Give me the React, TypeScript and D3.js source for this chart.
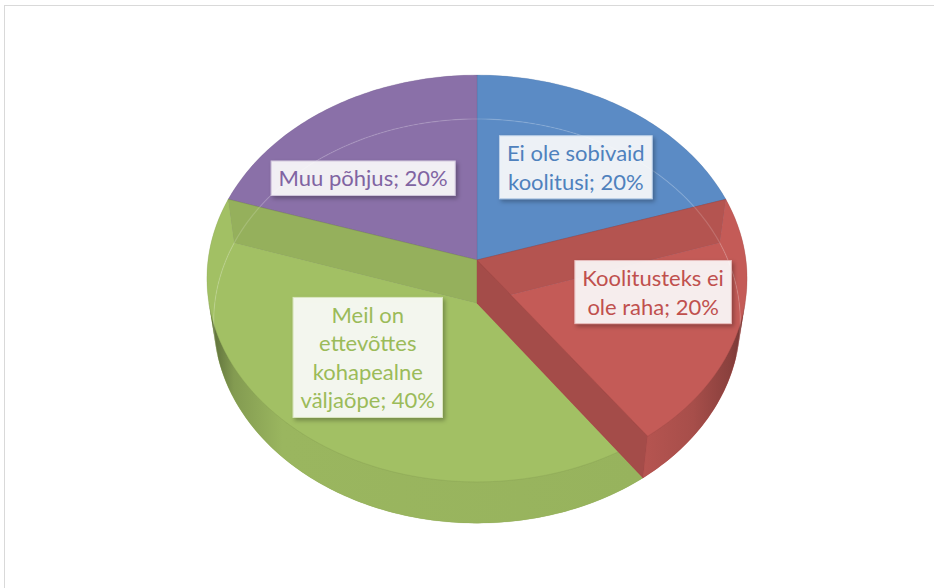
import React from 'react';
import * as d3 from 'd3';

// ---- data ----
const categories = [
  'Ei ole sobivaid koolitusi',
  'Koolitusteks ei ole raha',
  'Meil on ettevõttes kohapealne väljaõpe',
  'Muu põhjus',
];
const values = [20, 20, 40, 20];
const colors = ['#5b8bc5', '#c45b57', '#a2c064', '#8a70a8'];
const textColors = ['#4f81bd', '#c0504d', '#9bbb59', '#8064a2'];

// ---- layout ----
const W = 934;
const HGT = 588;
const cx = 477;
const cy = 260;
const phi = Math.asin(0.75);
const cosP = Math.cos(phi);
const sinP = Math.sin(phi);
const R = 0.1375;
const TH = 0.0342;
const F = 1956;
const drawOrder = [0, 3, 2, 1];
const wrapWidths = [152, 162, 152, 210];
const labelNudge: [number, number][] = [[8, 1], [20, -6], [-10, -5], [-23, 12]];
const FS = 22;
const LH = 28.5;
const FONT = 'Lato, "Open Sans", sans-serif';

function proj(x: number, y: number, z: number): [number, number] {
  const depth = 1 + z * cosP - y * sinP;
  const v = y * cosP + z * sinP;
  return [cx + (F * x) / depth, cy - (F * v) / depth];
}
const rim = (a: number, y: number, r = R) => proj(r * Math.sin(a), y, r * Math.cos(a));
function arcPts(a0: number, a1: number, y: number): [number, number][] {
  const n = Math.max(2, Math.ceil(Math.abs(a1 - a0) / (Math.PI / 180)));
  return d3.range(n + 1).map((i) => rim(a0 + ((a1 - a0) * i) / n, y));
}
const lineGen = d3.line();
const closed = (pts: [number, number][]) => (lineGen(pts) || '') + 'Z';

let measureCtx: CanvasRenderingContext2D | null = null;
function measure(t: string) {
  if (!measureCtx) measureCtx = document.createElement('canvas').getContext('2d');
  if (!measureCtx) return t.length * FS * 0.5;
  measureCtx.font = `${FS}px Lato`;
  return measureCtx.measureText(t).width;
}
function wrap(text: string, maxW: number) {
  const words = text.split(' ');
  const lines: string[] = [];
  let cur = '';
  words.forEach((w) => {
    const t = cur ? cur + ' ' + w : w;
    if (cur && measure(t) > maxW) {
      lines.push(cur);
      cur = w;
    } else cur = t;
  });
  if (cur) lines.push(cur);
  return lines;
}

export default function App() {
  const total = d3.sum(values);
  const arcs = d3.pie<number>().sort(null).startAngle(0).endAngle(2 * Math.PI)(values);
  const thL = Math.acos(-R / cosP);
  const thR = 2 * Math.PI - thL;

  const xs = d3.range(0, 360).map((d) => rim((d * Math.PI) / 180, 0)[0]);
  const xMin = d3.min(xs) as number;
  const xMax = d3.max(xs) as number;

  const c0 = proj(0, 0, 0);
  const cB = proj(0, -TH, 0);

  const slices = arcs.map((a, i) => {
    const a0 = a.startAngle;
    const a1 = a.endAngle;
    const base = d3.color(colors[i]) as d3.RGBColor;
    const wall = base.darker(0.5).formatHex();
    const top = closed([c0, ...arcPts(a0, a1, 0)]);
    const bottom = closed([cB, ...arcPts(a0, a1, -TH)]);
    const walls = [a0, a1]
      .filter((t) => Math.abs(Math.sin(t)) > 1e-6)
      .map((t) => closed([c0, rim(t, 0), rim(t, -TH), cB]));
    const s = Math.max(a0, thL);
    const e = Math.min(a1, thR);
    const front = s < e ? closed([...arcPts(s, e, 0), ...arcPts(e, s, -TH)]) : null;
    const backs: string[] = [];
    const backRanges: [number, number][] = [
      [a0, Math.min(a1, thL)],
      [Math.max(a0, thR), a1],
    ];
    backRanges.forEach(([p, q]) => {
      if (q > p) backs.push(closed([...arcPts(p, q, 0), ...arcPts(q, p, -TH)]));
    });
    return { i, base, wall, top, bottom, walls, front, backs };
  });

  const bottomRimBack =
    lineGen([...arcPts(thR - 0.05, 2 * Math.PI, -TH), ...arcPts(0, thL + 0.05, -TH)]) || '';

  const labels = arcs.map((a, i) => {
    const pct = Math.round((values[i] / total) * 100);
    const text = `${categories[i]}; ${pct}%`;
    const lines = wrap(text, wrapWidths[i]);
    const mid = (a.startAngle + a.endAngle) / 2;
    const p = rim(mid, 0, R * 0.6);
    const ccx = p[0] + labelNudge[i][0];
    const ccy = p[1] + labelNudge[i][1];
    const tw = d3.max(lines, (l) => measure(l)) as number;
    const bw = tw + 15;
    const bh = lines.length * LH + 6;
    return { i, lines, x: ccx - bw / 2, y: ccy - bh / 2, bw, bh, cx: ccx };
  });

  const sideStops: [number, number][] = [
    [0, 1.8],
    [0.05, 0.6],
    [0.14, 0.15],
    [0.8, 0.2],
    [0.9, 0.45],
    [0.97, 1.0],
    [1, 1.6],
  ];

  return (
    <svg
      width={W}
      height={HGT}
      style={{ position: 'absolute', left: 0, top: 0, background: '#ffffff' }}
    >
      <defs>
        {slices.map((s) => (
          <linearGradient
            key={s.i}
            id={`side${s.i}`}
            gradientUnits="userSpaceOnUse"
            x1={xMin}
            x2={xMax}
            y1={0}
            y2={0}
          >
            {sideStops.map(([o, k], j) => (
              <stop key={j} offset={o} stopColor={s.base.darker(k).formatHex()} />
            ))}
          </linearGradient>
        ))}
        <filter id="shadow" x="-20%" y="-20%" width="140%" height="150%">
          <feDropShadow dx="2" dy="2.5" stdDeviation="2" floodColor="#000" floodOpacity="0.32" />
        </filter>
      </defs>
      <rect x={4.5} y={5.5} width={980} height={640} fill="#fff" stroke="#d9d9d9" strokeWidth={1} />

      {drawOrder.map((idx) => {
        const s = slices[idx];
        const edge = s.base.darker(0.6).formatHex();
        return (
          <g key={idx}>
            <path d={s.bottom} fill={s.base.formatHex()} />
            {s.backs.map((d, j) => (
              <path key={j} d={d} fill={s.base.formatHex()} />
            ))}
            {s.walls.map((d, j) => (
              <path key={j} d={d} fill={s.wall} stroke={edge} strokeOpacity={0.35} strokeWidth={0.6} />
            ))}
            {s.front && (
              <path
                d={s.front}
                fill={`url(#side${s.i})`}
                stroke={edge}
                strokeOpacity={0.3}
                strokeWidth={0.6}
              />
            )}
            <path
              d={s.top}
              fill={s.base.formatHex()}
              fillOpacity={0.5}
              stroke={edge}
              strokeOpacity={0.35}
              strokeWidth={0.7}
            />
          </g>
        );
      })}
      <path d={bottomRimBack} fill="none" stroke="#ffffff" strokeOpacity={0.16} strokeWidth={1.2} />

      {labels.map((l) => (
        <g key={l.i}>
          <rect
            x={l.x}
            y={l.y}
            width={l.bw}
            height={l.bh}
            fill="#ffffff"
            fillOpacity={0.88}
            stroke={d3.interpolateRgb(colors[l.i], '#ffffff')(0.6)}
            strokeWidth={1}
            filter="url(#shadow)"
          />
          {l.lines.map((t, j) => (
            <text
              key={j}
              x={l.cx}
              y={l.y + 3 + LH * (j + 1) - 6}
              textAnchor="middle"
              fontFamily={FONT}
              fontSize={FS}
              fill={textColors[l.i]}
            >
              {t}
            </text>
          ))}
        </g>
      ))}
    </svg>
  );
}
